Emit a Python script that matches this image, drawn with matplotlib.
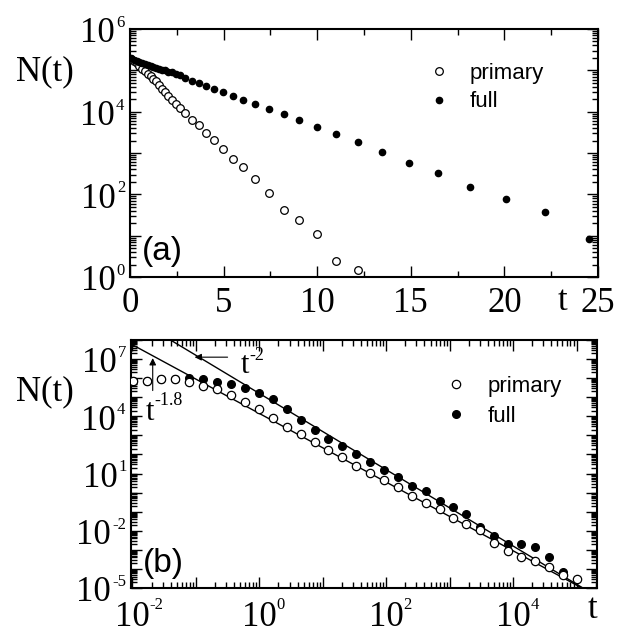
import numpy as np
import matplotlib
matplotlib.use('Agg')
import matplotlib.pyplot as plt
from matplotlib.ticker import LogLocator, MultipleLocator, NullFormatter
from matplotlib.textpath import TextPath
from matplotlib.font_manager import FontProperties

plt.rcParams['font.family'] = 'Liberation Serif'

# panel (a): linear t, log N
t_a = [0.05, 0.2, 0.35, 0.5, 0.65, 0.8, 0.95, 1.1, 1.25, 1.4,
       1.55, 1.7, 1.87, 2.05, 2.23, 2.44, 2.67, 2.94, 3.3, 3.69,
       4.06, 4.51, 4.97, 5.49, 6.05, 6.7, 7.42, 8.2, 9.05, 9.98,
       11.03, 12.19, 13.48, 14.88, 16.45, 18.16, 20.07, 22.18, 24.5]
logN_a_full = [5.29, 5.26, 5.23, 5.2, 5.18, 5.15, 5.13, 5.1, 5.08, 5.06,
               5.04, 5.02, 5.0, 4.97, 4.95, 4.92, 4.88, 4.82, 4.75, 4.69,
               4.62, 4.55, 4.47, 4.39, 4.28, 4.19, 4.06, 3.94, 3.79, 3.63,
               3.45, 3.26, 3.03, 2.77, 2.52, 2.18, 1.89, 1.57, 0.92]
logN_a_primary = [5.27, 5.22, 5.17, 5.11, 5.04, 4.98, 4.92, 4.86, 4.8, 4.73,
                  4.65, 4.56, 4.48, 4.39, 4.28, 4.19, 4.1, 3.96, 3.81, 3.68,
                  3.49, 3.31, 3.1, 2.86, 2.65, 2.36, 2.04, 1.63, 1.39, 1.04,
                  0.39, 0.17]

# panel (b): log t, log N
logt_b = [-1.99, -1.77, -1.55, -1.33, -1.11, -0.89, -0.67, -0.45, -0.23, -0.01,
          0.21, 0.43, 0.65, 0.87, 1.09, 1.31, 1.53, 1.75, 1.97, 2.19,
          2.41, 2.63, 2.85, 3.05, 3.26, 3.48, 3.70, 3.92, 4.13, 4.35,
          4.56, 4.78, 5.0]
logN_b_primary = [5.86, 5.86, 5.94, 5.94, 5.81, 5.6, 5.41, 5.12, 4.76, 4.38,
                  3.93, 3.45, 3.05, 2.64, 2.23, 1.85, 1.39, 1.01, 0.66, 0.28,
                  -0.16, -0.56, -0.87, -1.35, -1.65, -1.96, -2.63, -3.05, -3.39, -3.58,
                  -3.92, -4.32, -4.53]
logN_b_full = [5.86, 5.86, 5.94, 5.94, 5.99, 5.94, 5.81, 5.67, 5.46, 5.2,
               4.9, 4.38, 3.81, 3.28, 2.83, 2.44, 2.02, 1.62, 1.18, 0.83,
               0.35, 0.07, -0.45, -0.77, -1.13, -1.8, -2.27, -2.7, -2.68, -2.84,
               -3.39, -4.15]

# guide power laws N = 10**logA * t**slope
slopes = [-2.0, -1.8]
log_prefactors = [5.2, 4.15]

# labelled decades
yexp_a = [0, 2, 4, 6]
yexp_b = [-5, -2, 1, 4, 7]
xexp_b = [-2, 0, 2, 4]

BASE_SIZE = 25
EXP_SIZE = 12
serif = FontProperties(family='Liberation Serif')


def ink_width(s, size):
    return TextPath((0, 0), s, size=size, prop=serif).get_extents().width


W, H = 626, 633
fig = plt.figure(figsize=(W / 100, H / 100), dpi=100)
ax1 = fig.add_axes([130 / W, 1 - 277 / H, 468 / W, 248 / H])
ax2 = fig.add_axes([131 / W, 1 - 588 / H, 466 / W, 248 / H])


def style_axes(ax):
    ax.tick_params(which='both', direction='in', top=True, right=True,
                   labelsize=BASE_SIZE, width=1.0)
    ax.tick_params(which='major', length=8)
    ax.tick_params(which='minor', length=4)
    ax.tick_params(axis='x', pad=7)
    for s in ax.spines.values():
        s.set_linewidth(1.5)


def log_ticks(axis, n=30):
    axis.set_major_locator(LogLocator(base=10, numticks=n))
    axis.set_minor_locator(LogLocator(base=10, subs=np.arange(2, 10), numticks=n))
    axis.set_major_formatter(NullFormatter())
    axis.set_minor_formatter(NullFormatter())


# "10" plus a small raised exponent, like the original typesetting
def y_power_label(ax, exp):
    e = '%d' % exp
    we = ink_width(e, EXP_SIZE)
    kw = dict(xycoords=('axes fraction', 'data'), textcoords='offset points',
              va='baseline', annotation_clip=False)
    ax.annotate(e, xy=(0, 10.0 ** exp), xytext=(-4.5 - we, 1.5), ha='left',
                fontsize=EXP_SIZE, **kw)
    ax.annotate('10', xy=(0, 10.0 ** exp), xytext=(-5.5 - we, -9.5), ha='right',
                fontsize=BASE_SIZE, **kw)


def x_power_label(ax, exp):
    w10 = ink_width('10', BASE_SIZE)
    kw = dict(xycoords=('data', 'axes fraction'), textcoords='offset points',
              va='baseline', annotation_clip=False)
    ax.annotate('10', xy=(10.0 ** exp, 0), xytext=(0, -27), ha='center',
                fontsize=BASE_SIZE, **kw)
    ax.annotate('%d' % exp, xy=(10.0 ** exp, 0), xytext=(w10 / 2 + 1.5, -15),
                ha='left', fontsize=EXP_SIZE, **kw)


# ---- panel (a)
t_a = np.array(t_a)
ax1.plot(t_a[:len(logN_a_primary)], 10 ** np.array(logN_a_primary), 'o', ms=5.5,
         mfc='white', mec='black', mew=0.9, ls='none', label='primary', zorder=3)
ax1.plot(t_a, 10 ** np.array(logN_a_full), 'o', ms=4.5, mfc='black', mec='black',
         ls='none', label='full', zorder=4)
ax1.set_yscale('log')
ax1.set_xlim(0, 25)
ax1.set_ylim(1, 1e6)
ax1.xaxis.set_major_locator(MultipleLocator(5))
ax1.xaxis.set_minor_locator(MultipleLocator(2.5))
log_ticks(ax1.yaxis)
style_axes(ax1)
for e in yexp_a:
    y_power_label(ax1, e)
ax1.legend(loc='upper left', bbox_to_anchor=(0.593, 0.945), frameon=False,
           handlelength=1.0, handletextpad=0.9, labelspacing=0.35,
           prop={'family': 'Liberation Sans', 'size': 16})
ax1.text(0.025, 0.04, '(a)', transform=ax1.transAxes, family='Liberation Sans',
         fontsize=24, ha='left', va='bottom')

# ---- panel (b)
tb = 10 ** np.array(logt_b)
ax2.plot(tb[:len(logN_b_full)], 10 ** np.array(logN_b_full), 'o', ms=5.5,
         mfc='black', mec='black', ls='none', label='full', zorder=3)
ax2.plot(tb, 10 ** np.array(logN_b_primary), 'o', ms=6, mfc='white', mec='black',
         mew=0.9, ls='none', label='primary', zorder=4)
t_line = np.array([0.009, 3e5])
for s, la in zip(slopes, log_prefactors):
    ax2.plot(t_line, 10 ** la * t_line ** s, color='black', lw=1.0, zorder=2)
ax2.set_xscale('log')
ax2.set_yscale('log')
ax2.set_xlim(0.0095, 2.1e5)
ax2.set_ylim(1e-5, 1e8)
log_ticks(ax2.xaxis)
log_ticks(ax2.yaxis)
style_axes(ax2)
for e in yexp_b:
    y_power_label(ax2, e)
for e in xexp_b:
    x_power_label(ax2, e)
h, l = ax2.get_legend_handles_labels()
ax2.legend(h[::-1], l[::-1], loc='upper left', bbox_to_anchor=(0.631, 0.935),
           frameon=False, handlelength=1.0, handletextpad=0.9, labelspacing=0.4,
           prop={'family': 'Liberation Sans', 'size': 16})
ax2.text(0.025, 0.035, '(b)', transform=ax2.transAxes, family='Liberation Sans',
         fontsize=24, ha='left', va='bottom')

# power-law annotations
arrow = dict(arrowstyle='-|>', color='black', lw=0.8, mutation_scale=10,
             shrinkA=0, shrinkB=0)
ax2.annotate('', xy=(10 ** -1.02, 10 ** 7.1), xytext=(10 ** -0.5, 10 ** 7.1),
             arrowprops=arrow)
ax2.text(10 ** -0.29, 10 ** 6.27, 't', fontsize=22, ha='left', va='baseline')
ax2.text(10 ** -0.15, 10 ** 6.95, '-2', fontsize=EXP_SIZE + 1, ha='left', va='baseline')
ax2.annotate('', xy=(10 ** -1.68, 10 ** 7.05), xytext=(10 ** -1.68, 10 ** 5.35),
             arrowprops=arrow)
ax2.text(10 ** -1.79, 10 ** 3.8, 't', fontsize=22, ha='left', va='baseline')
ax2.text(10 ** -1.66, 10 ** 4.59, '-1.8', fontsize=EXP_SIZE + 1, ha='left', va='baseline')

# axis titles placed like the original
fig.text(45 / W, 1 - 72 / H, 'N(t)', fontsize=BASE_SIZE, ha='center', va='center')
fig.text(45 / W, 1 - 392 / H, 'N(t)', fontsize=BASE_SIZE, ha='center', va='center')
fig.text(563 / W, 1 - 302 / H, 't', fontsize=BASE_SIZE, ha='center', va='center')
fig.text(592 / W, 1 - 610 / H, 't', fontsize=BASE_SIZE, ha='center', va='center')

fig.savefig('out.png', dpi=100)
